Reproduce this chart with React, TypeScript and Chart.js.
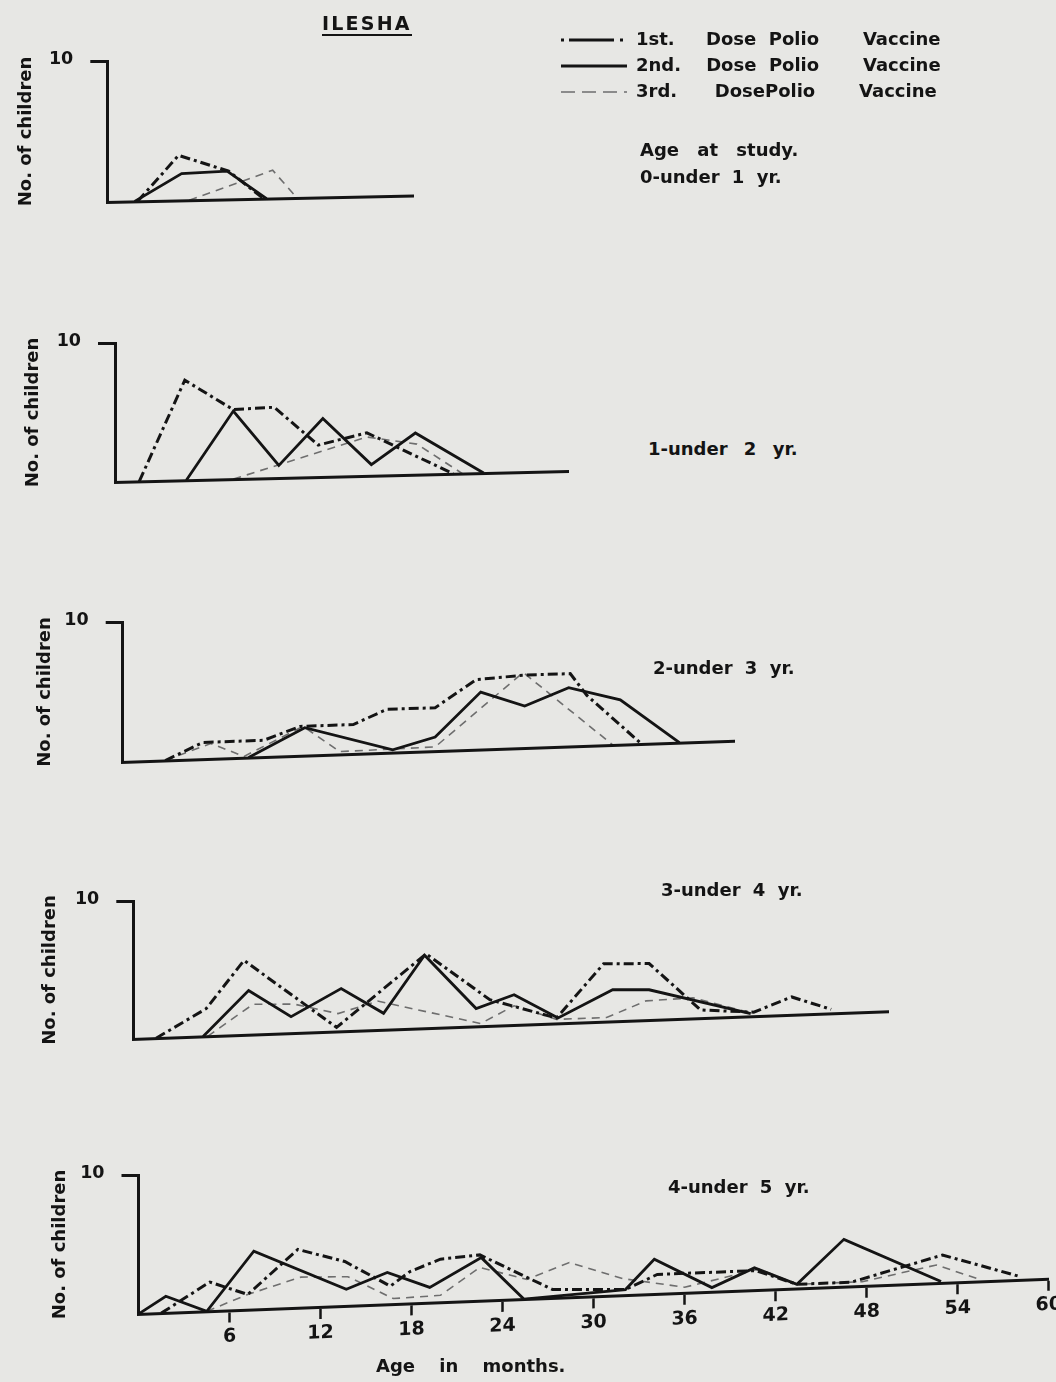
import React, { useEffect, useRef } from "react";
import { Chart, registerables } from "chart.js";

Chart.register(...registerables);

// ---------------- data (age in months, number of children) ----------------
const chartTitle = "ILESHA";
const studyAgeHeading = "Age at study.";
const xAxisTitle = "Age in months.";
const yAxisTitle = "No. of children";
const seriesLabels = [
  "1st.     Dose  Polio       Vaccine",
  "2nd.    Dose  Polio       Vaccine",
  "3rd.      DosePolio       Vaccine",
];
const panelLabels = ["0-under 1 yr.", "1-under 2 yr.", "2-under 3 yr.", "3-under 4 yr.", "4-under 5 yr."];
const ageTicks = [6, 12, 18, 24, 30, 36, 42, 48, 54, 60];
const countTicks = [10];
const axisEndMonths = [20.2, 29.9, 40.3, 49.8, 60];

const under1Dose1 = [[2.0, 0], [4.7, 3.2], [8.0, 2.0], [10.3, 0]];
const under1Dose2 = [[1.8, 0], [4.9, 1.9], [7.9, 2.0], [10.5, 0]];
const under1Dose3 = [[5.4, 0], [10.9, 2.0], [12.5, 0]];

const under2Dose1 = [[1.6, 0], [4.6, 7.2], [7.8, 5.0], [10.5, 5.1], [13.4, 2.3], [16.6, 3.1], [22.3, 0]];
const under2Dose2 = [[4.7, 0], [7.8, 4.9], [10.8, 0.9], [13.7, 4.2], [16.9, 0.8], [19.8, 3.0], [24.3, 0]];
const under2Dose3 = [[7.8, 0], [16.6, 2.8], [19.9, 2.2], [22.9, 0]];

const under3Dose1 = [[2.8, 0], [5.3, 1.2], [9.3, 1.2], [11.7, 2.1], [15.2, 2.1], [17.4, 3.1], [20.6, 3.1], [23.3, 5.0], [26.4, 5.2], [29.5, 5.2], [30.6, 3.6], [34.2, 0]];
const under3Dose2 = [[8.3, 0], [12.0, 2.0], [17.8, 0.2], [20.6, 1.0], [23.6, 4.1], [26.5, 3.0], [29.4, 4.2], [32.8, 3.2], [36.7, 0]];
const under3Dose3 = [[2.8, 0], [5.8, 1.1], [8.0, 0.1], [11.9, 2.1], [14.3, 0.2], [20.6, 0.3], [26.4, 5.4], [32.3, 0]];

const under4Dose1 = [[1.5, 0], [4.8, 2.0], [7.3, 5.4], [13.4, 0.3], [19.3, 5.4], [23.5, 1.9], [27.9, 0.4], [31.0, 4.2], [34.0, 4.1], [37.4, 0.6], [40.9, 0.3], [43.4, 1.3], [46.0, 0.3]];
const under4Dose2 = [[4.6, 0], [7.6, 3.2], [10.4, 1.2], [13.7, 3.1], [16.5, 1.2], [19.2, 5.3], [22.6, 1.3], [25.1, 2.2], [28.0, 0.4], [31.6, 2.3], [34.0, 2.2], [40.7, 0.2]];
const under4Dose3 = [[4.9, 0], [7.9, 2.2], [10.6, 2.1], [13.5, 1.3], [16.1, 2.1], [22.9, 0.2], [25.1, 1.4], [27.9, 0.3], [31.2, 0.3], [33.8, 1.4], [36.9, 1.5], [40.9, 0.2]];

const under5Dose1 = [[1.5, 0], [4.7, 2.1], [7.2, 1.1], [10.5, 4.2], [13.6, 3.2], [16.6, 1.3], [17.9, 2.3], [19.9, 3.1], [22.5, 3.3], [27.3, 0.6], [32.1, 0.4], [34.2, 1.4], [37.8, 1.4], [40.7, 1.4], [43.4, 0.3], [47.0, 0.3], [53.0, 2.0], [58.2, 0.2]];
const under5Dose2 = [[0, 0], [1.8, 1.2], [4.5, 0], [7.6, 4.2], [13.7, 1.2], [16.4, 2.3], [19.2, 1.1], [22.6, 3.1], [25.4, 0], [32.1, 0.4], [34.0, 2.5], [37.8, 0.3], [40.6, 1.6], [43.4, 0.3], [46.5, 3.4], [52.9, 0.1]];
const under5Dose3 = [[4.5, 0], [7.2, 1.1], [10.7, 2.2], [13.8, 2.1], [16.8, 0.4], [19.9, 0.5], [22.5, 2.4], [25.6, 1.4], [28.4, 2.5], [31.9, 1.2], [36.0, 0.4], [40.9, 1.5], [43.4, 0.3], [47.7, 0.3], [52.6, 1.3], [55.3, 0.2]];

const panelSeries = [
  [under1Dose1, under1Dose2, under1Dose3],
  [under2Dose1, under2Dose2, under2Dose3],
  [under3Dose1, under3Dose2, under3Dose3],
  [under4Dose1, under4Dose2, under4Dose3],
  [under5Dose1, under5Dose2, under5Dose3],
];

// ---------------- layout & style ----------------
const PAGE_BG = "#e7e7e4";
const INK = "#141414";
const GRAY = "#6e6e6e";
const FONT = "'DejaVu Sans', sans-serif";
const PX_PER_MONTH = 15.17;
const PAD_TOP = 30;
const PAD_RIGHT = 20;

const PANEL_LAYOUT = [
  { axisX: 107.3, top: 61, bottom: 202, slope: 0.0216, titleX: 26, xHeight: 0, padBottom: 30 },
  { axisX: 115, top: 343, bottom: 482, slope: 0.0243, titleX: 33, xHeight: 0, padBottom: 30 },
  { axisX: 122.7, top: 622, bottom: 762, slope: 0.0349, titleX: 45, xHeight: 0, padBottom: 30 },
  { axisX: 133.3, top: 901, bottom: 1039, slope: 0.0366, titleX: 50, xHeight: 0, padBottom: 30 },
  { axisX: 138.5, top: 1175, bottom: 1314, slope: 0.0388, titleX: 60, xHeight: 45, padBottom: 10 },
];

const SERIES_STYLE = [
  { borderColor: INK, borderWidth: 3, borderDash: [10, 4, 3, 4] },
  { borderColor: INK, borderWidth: 2.8, borderDash: [] as number[] },
  { borderColor: GRAY, borderWidth: 1.6, borderDash: [8, 6] },
];
const LEGEND_DASH = [[3, 5, 45, 6, 3, 20], [], [14, 7]];
const LEGEND_BOX = { left: 553, top: 23, width: 440, height: 200 };

const TEXTS = [
  { text: chartTitle, x: 322, cy: 23, size: 19, letterSpacing: 2.2, underline: true },
  { text: studyAgeHeading, x: 640, cy: 150, size: 18, wordSpacing: 12 },
  { text: panelLabels[0], x: 640, cy: 177, size: 18, wordSpacing: 6 },
  { text: panelLabels[1], x: 648, cy: 449, size: 18, wordSpacing: 10 },
  { text: panelLabels[2], x: 653, cy: 668, size: 18, wordSpacing: 6 },
  { text: panelLabels[3], x: 661, cy: 890, size: 18, wordSpacing: 6 },
  { text: panelLabels[4], x: 668, cy: 1187, size: 18, wordSpacing: 6 },
  { text: xAxisTitle, x: 376, cy: 1366, size: 18, wordSpacing: 18 },
];

// shears the plotted area so the baseline rises to the right like the hand-drawn original
const skewPlugin = {
  id: "baselineSkew",
  beforeDatasetsDraw(chart: any, _args: any, opts: any) {
    const { ctx, chartArea } = chart;
    ctx.save();
    ctx.transform(1, -opts.slope, 0, 1, 0, opts.slope * chartArea.left);
  },
  afterDraw(chart: any) {
    chart.ctx.restore();
  },
};

function canvasBox(i: number) {
  const L = PANEL_LAYOUT[i];
  const areaRight = L.axisX + axisEndMonths[i] * PX_PER_MONTH;
  const width = Math.ceil(areaRight + PAD_RIGHT);
  const top = L.top - PAD_TOP;
  const height = L.bottom - L.top + PAD_TOP + L.xHeight + L.padBottom;
  return { left: 0, top, width, height, padRight: width - areaRight };
}

function buildPanel(canvas: HTMLCanvasElement, i: number) {
  const L = PANEL_LAYOUT[i];
  const box = canvasBox(i);
  const isLast = i === PANEL_LAYOUT.length - 1;
  const tickFont = { family: FONT, size: 19, weight: "bold" as const };
  const xScale: any = {
    type: "linear",
    min: 0,
    max: axisEndMonths[i],
    afterFit: (s: any) => {
      s.height = L.xHeight;
    },
    border: { display: true, color: INK, width: 3, z: 1 },
  };
  if (isLast) {
    xScale.afterBuildTicks = (s: any) => {
      s.ticks = ageTicks.map((v) => ({ value: v }));
    };
    xScale.ticks = { display: true, autoSkip: false, maxRotation: 0, color: INK, font: tickFont, padding: 3, z: 1 };
    xScale.grid = { display: true, drawOnChartArea: false, drawTicks: true, tickLength: 12, tickWidth: 2.5, tickColor: INK, z: 1 };
  } else {
    xScale.ticks = { display: false, z: 1 };
    xScale.grid = { display: false, z: 1 };
  }
  return new Chart(canvas, {
    type: "line",
    data: {
      datasets: panelSeries[i].map((pts, k) => ({
        label: seriesLabels[k],
        data: pts.map(([m, c]) => ({ x: m, y: c })),
        ...SERIES_STYLE[k],
        pointRadius: 0,
        tension: 0,
        fill: false,
      })),
    },
    options: {
      responsive: false,
      animation: false,
      events: [],
      layout: { padding: { top: PAD_TOP, right: box.padRight, bottom: L.padBottom, left: 0 } },
      plugins: {
        legend: { display: false },
        tooltip: { enabled: false },
        baselineSkew: { slope: L.slope },
      } as any,
      scales: {
        x: xScale,
        y: {
          type: "linear",
          min: 0,
          max: 10,
          afterBuildTicks: (s: any) => {
            s.ticks = countTicks.map((v) => ({ value: v }));
          },
          afterFit: (s: any) => {
            s.width = L.axisX;
          },
          ticks: { color: INK, font: { family: FONT, size: 17.5, weight: "bold" }, padding: 17, labelOffset: -2 },
          grid: { display: true, drawOnChartArea: false, drawTicks: true, tickLength: 17, tickWidth: 3, tickColor: INK },
          border: { display: true, color: INK, width: 3 },
          title: {
            display: true,
            text: yAxisTitle,
            color: INK,
            font: { family: FONT, size: 18, weight: "bold" },
            padding: { top: L.titleX - 10.8, bottom: 0 },
          },
        },
      },
    } as any,
    plugins: [skewPlugin as any],
  });
}

function buildLegend(canvas: HTMLCanvasElement) {
  return new Chart(canvas, {
    type: "line",
    data: {
      datasets: SERIES_STYLE.map((st, k) => ({ label: seriesLabels[k], data: [], ...st })),
    },
    options: {
      responsive: false,
      animation: false,
      events: [],
      layout: { padding: 0 },
      scales: { x: { type: "linear", display: false }, y: { display: false } },
      plugins: {
        tooltip: { enabled: false },
        legend: {
          display: true,
          position: "top",
          align: "start",
          labels: {
            usePointStyle: true,
            pointStyleWidth: 66,
            padding: 8,
            color: INK,
            font: { family: FONT, size: 18, weight: "bold" },
            generateLabels: (chart: any) =>
              chart.data.datasets.map((ds: any, k: number) => ({
                text: ds.label,
                fillStyle: "rgba(0,0,0,0)",
                strokeStyle: ds.borderColor,
                lineWidth: ds.borderWidth,
                lineDash: LEGEND_DASH[k],
                pointStyle: "line",
                hidden: false,
                datasetIndex: k,
                fontColor: INK,
              })),
          },
        },
      },
    } as any,
  });
}

export default function App() {
  const panelRefs = useRef<(HTMLCanvasElement | null)[]>([]);
  const legendRef = useRef<HTMLCanvasElement | null>(null);

  useEffect(() => {
    const charts: Chart[] = [];
    PANEL_LAYOUT.forEach((_, i) => {
      const c = panelRefs.current[i];
      if (c) charts.push(buildPanel(c, i));
    });
    if (legendRef.current) charts.push(buildLegend(legendRef.current));
    return () => charts.forEach((ch) => ch.destroy());
  }, []);

  return (
    <div
      style={{
        position: "fixed",
        left: 0,
        top: 0,
        width: 1056,
        height: 1382,
        overflow: "hidden",
        background: PAGE_BG,
      }}
    >
      {PANEL_LAYOUT.map((_, i) => {
        const b = canvasBox(i);
        return (
          <canvas
            key={i}
            ref={(el) => {
              panelRefs.current[i] = el;
            }}
            width={b.width}
            height={b.height}
            style={{ position: "absolute", left: b.left, top: b.top, width: b.width, height: b.height }}
          />
        );
      })}
      <canvas
        ref={legendRef}
        width={LEGEND_BOX.width}
        height={LEGEND_BOX.height}
        style={{
          position: "absolute",
          left: LEGEND_BOX.left,
          top: LEGEND_BOX.top,
          width: LEGEND_BOX.width,
          height: LEGEND_BOX.height,
        }}
      />
      {TEXTS.map((t, i) => (
        <div
          key={i}
          style={{
            position: "absolute",
            left: t.x,
            top: t.cy - 0.48 * t.size,
            fontFamily: FONT,
            fontWeight: "bold",
            fontSize: t.size,
            lineHeight: 1,
            whiteSpace: "pre",
            color: INK,
            wordSpacing: t.wordSpacing || 0,
            letterSpacing: t.letterSpacing || 0,
            borderBottom: t.underline ? `2px solid ${INK}` : "none",
            paddingBottom: t.underline ? 1.5 : 0,
          }}
        >
          {t.text}
        </div>
      ))}
    </div>
  );
}
